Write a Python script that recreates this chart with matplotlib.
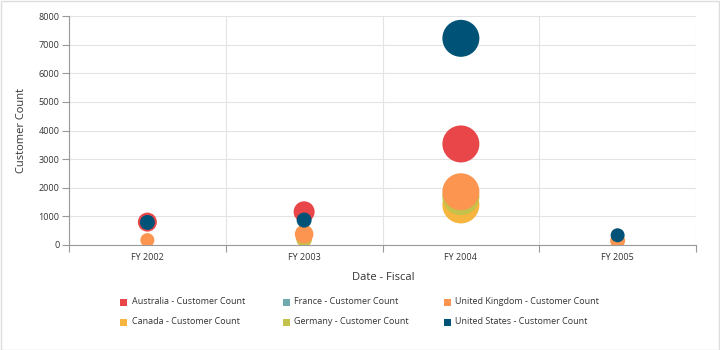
import matplotlib
matplotlib.use("Agg")
import matplotlib.pyplot as plt
from matplotlib.patches import Rectangle
import numpy as np

plt.rcParams['font.family'] = ['Open Sans', 'DejaVu Sans']

categories = ["FY 2002", "FY 2003", "FY 2004", "FY 2005"]
series_names = ["Australia - Customer Count", "Canada - Customer Count",
                "France - Customer Count", "Germany - Customer Count",
                "United Kingdom - Customer Count", "United States - Customer Count"]
colors = ["#E94649", "#F6B53F", "#6FAAB0", "#C4C24A", "#FB954F", "#005277"]

# customer counts per category
australia = [800, 1160, 3530, np.nan]
canada = [np.nan, 180, 1400, np.nan]
france = [150, 300, 1780, 150]
germany = [np.nan, 240, 1690, np.nan]
united_kingdom = [170, 380, 1860, 150]
united_states = [790, 870, 7220, 340]
values = [australia, canada, france, germany, united_kingdom, united_states]

# bubble size values
size_australia = [9.5, 10.5, 18.5, np.nan]
size_canada = [np.nan, 7.5, 18.5, np.nan]
size_france = [6, 7, 16, 6]
size_germany = [np.nan, 8, 18.5, np.nan]
size_uk = [7, 9.3, 18.5, 7.5]
size_us = [7.5, 7.5, 18.5, 7]
sizes = [size_australia, size_canada, size_france, size_germany, size_uk, size_us]

fig = plt.figure(figsize=(7.2, 3.5), dpi=100)
ax = fig.add_axes([69/720, 1-245/350, (696-69)/720, (245-16)/350])

x = np.arange(len(categories))
for vals, sz, col, name in zip(values, sizes, colors, series_names):
    r = np.array(sz, dtype=float)
    s = (2 * r * 0.72) ** 2
    ax.scatter(x, vals, s=s, color=col, edgecolors='none', label=name, zorder=3)

ax.set_xlim(-0.5, len(categories) - 0.5)
ax.set_ylim(0, 8000)
ax.set_yticks(np.arange(0, 8001, 1000))
ax.set_xticks(x)
ax.set_xticklabels(categories)
ax.set_xticks(np.arange(-0.5, len(categories), 1), minor=True)

ax.tick_params(axis='x', which='major', length=0, labelsize=6.5, colors='#333333', pad=6)
ax.tick_params(axis='x', which='minor', length=5, color='#999999', width=0.8)
ax.tick_params(axis='y', which='major', length=5, color='#999999', width=0.8,
               labelsize=6.5, labelcolor='#333333', pad=2)

ax.grid(axis='y', which='major', color='#e3e3e3', linewidth=0.8, zorder=0)
ax.grid(axis='x', which='minor', color='#e3e3e3', linewidth=0.8, zorder=0)
ax.grid(axis='x', which='major', visible=False)

for sp in ['top', 'right']:
    ax.spines[sp].set_visible(False)
ax.spines['left'].set_color('#999999')
ax.spines['bottom'].set_color('#999999')
ax.spines['left'].set_linewidth(0.8)
ax.spines['bottom'].set_linewidth(0.8)

fig.text(22/720, 1-130/350, "Customer Count", rotation=90, ha='center', va='center',
         fontsize=8, color='#333333')
fig.text(383/720, 1-277/350, "Date - Fiscal", ha='center', va='center',
         fontsize=8, color='#333333')

# legend (column-major like the reference)
order_positions = [(124, 302), (124, 322), (286, 302), (286, 322), (447, 302), (447, 322)]
for (px, py), col, name in zip(order_positions, colors, series_names):
    fig.add_artist(Rectangle((px/720 - 3.5/720, 1 - (py + 3.5)/350), 7/720, 7/350,
                             transform=fig.transFigure, color=col, lw=0))
    fig.text((px + 8)/720, 1 - py/350, name, ha='left', va='center',
             fontsize=6.5, color='#333333')

# outer border
fig.add_artist(Rectangle((0.5/720, 0.5/350), 1 - 1.5/720, 1 - 1.5/350,
                         transform=fig.transFigure, fill=False, edgecolor='#dddddd', lw=1))

fig.savefig("out.png", dpi=100)
